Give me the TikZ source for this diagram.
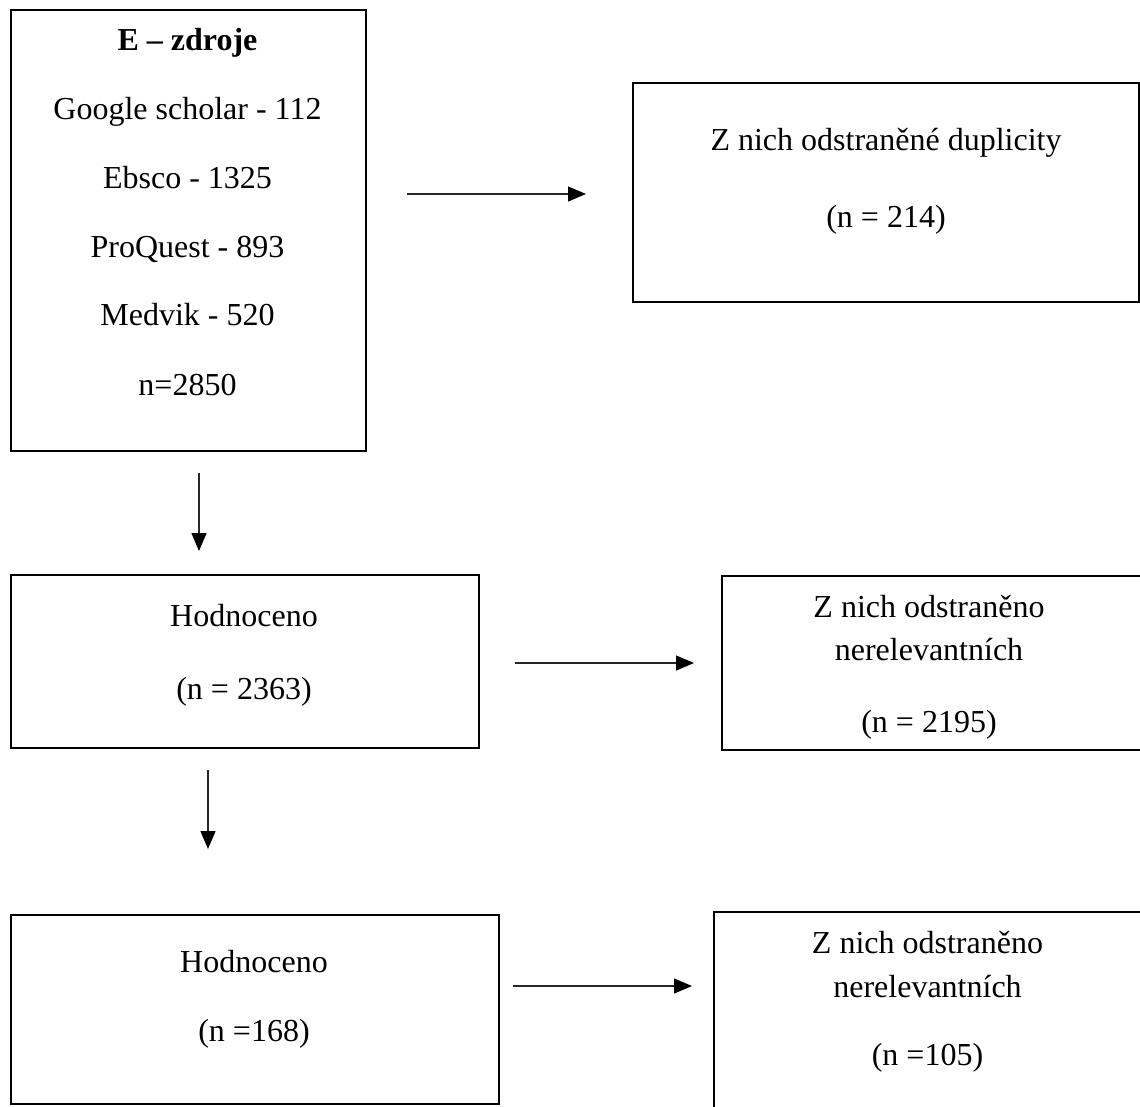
\documentclass[tikz,border=0pt]{standalone}
\usepackage{fontspec}
\setmainfont{Liberation Serif}
\usetikzlibrary{arrows.meta}
\begin{document}
\begin{tikzpicture}[x=1pt,y=-1pt,
  box/.style={draw=black, line width=2.2pt, rectangle, inner sep=0pt, anchor=north west},
  txt/.style={inner sep=0pt, anchor=base, font=\fontsize{32}{38}\selectfont},
  btxt/.style={txt, font=\fontsize{32}{38}\selectfont\bfseries},
  arr/.style={draw=black!85, line width=1.3pt, -{Triangle[length=18pt,width=15pt,color=black,fill=black]}}]
\useasboundingbox (0,0) rectangle (1140,1106);
\clip (0,0) rectangle (1140,1106);
% boxes
\node[box, minimum width=355pt, minimum height=441pt] (b1) at (10,9) {};
\node[box, minimum width=506pt, minimum height=219pt] (b2) at (632,82) {};
\node[box, minimum width=468pt, minimum height=173pt] (b3) at (10,574) {};
\node[box, minimum width=430pt, minimum height=174pt] (b4) at (721,575) {};
\node[box, minimum width=488pt, minimum height=189pt] (b5) at (10,914) {};
\node[box, minimum width=440pt, minimum height=220pt] (b6) at (713,911) {};
% texts box 1
\node[btxt] (t1a) at (187.5,50) {E – zdroje};
\node[txt] (t1b) at (187.5,119) {Google scholar - 112};
\node[txt] (t1c) at (187.5,188) {Ebsco - 1325};
\node[txt] (t1d) at (187.5,257) {ProQuest - 893};
\node[txt] (t1e) at (187.5,325) {Medvik - 520};
\node[txt] (t1f) at (187.5,395) {n=2850};
% box 2
\node[txt] (t2a) at (886,150) {Z nich odstraněné duplicity};
\node[txt] (t2b) at (886,227) {(n = 214)};
% box 3
\node[txt] (t3a) at (244,626) {Hodnoceno};
\node[txt] (t3b) at (244,699) {(n = 2363)};
% box 4
\node[txt] (t4a) at (929,617) {Z nich odstraněno};
\node[txt] (t4b) at (929,660) {nerelevantních};
\node[txt] (t4c) at (929,732) {(n = 2195)};
% box 5
\node[txt] (t5a) at (254,972) {Hodnoceno};
\node[txt] (t5b) at (254,1041) {(n =168)};
% box 6
\node[txt] (t6a) at (927.5,953) {Z nich odstraněno};
\node[txt] (t6b) at (927.5,997) {nerelevantních};
\node[txt] (t6c) at (927.5,1065) {(n =105)};
% arrow endpoints
\coordinate (a1s) at (407,194); \coordinate (a1e) at (586,194);
\coordinate (d1s) at (199,473); \coordinate (d1e) at (199,551);
\coordinate (a2s) at (515,663); \coordinate (a2e) at (694,663);
\coordinate (d2s) at (208,770); \coordinate (d2e) at (208,849);
\coordinate (a3s) at (513,986); \coordinate (a3e) at (692,986);
\draw[arr] (a1s) -- (a1e);
\draw[arr] (d1s) -- (d1e);
\draw[arr] (a2s) -- (a2e);
\draw[arr] (d2s) -- (d2e);
\draw[arr] (a3s) -- (a3e);
\end{tikzpicture}
\end{document}
